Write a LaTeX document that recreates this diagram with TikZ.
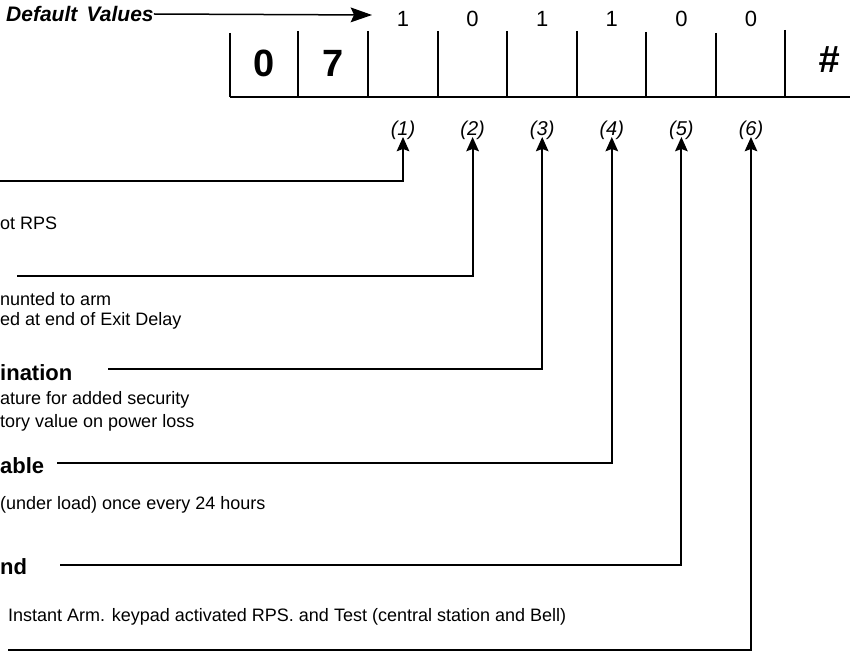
\documentclass[tikz,border=0pt]{standalone}
\usepackage{fontspec}
\setmainfont{Liberation Sans}
\usetikzlibrary{positioning, arrows.meta}

\newcommand{\fsz}[1]{\fontsize{#1}{#1}\selectfont}

\begin{document}
\begin{tikzpicture}[
  x=1pt, y=-1pt,
  note/.style={anchor=west, inner sep=0pt, font=\fsz{18pt}},
  head/.style={anchor=west, inner sep=0pt, font=\fsz{22pt}\bfseries},
  bit/.style={inner sep=0pt, font=\fsz{22pt}},
  idx/.style={anchor=south, inner sep=1.5pt, font=\fsz{20pt}\itshape},
  cellnum/.style={inner sep=0pt, font=\fsz{38pt}\bfseries},
  pick/.style={-{Stealth[length=5mm, width=4.4mm, inset=0.8mm]}, line width=1.9pt},
  grid/.style={line width=1.1pt}
]
\useasboundingbox (0,0) rectangle (850,652);

% entry box
\foreach \xx/\yt in {230/33, 298/31, 368/31, 438/31, 507/31, 577/31, 646/32, 716/33, 785/30}
  \draw[grid] (\xx,\yt) -- (\xx,97);
\draw[grid] (230,97) -- (850,97);
\node[cellnum] (zero) at (264,63) {0};
\node[cellnum] (seven) at (333,63) {7};
\node[inner sep=0pt, font=\fsz{38pt}\bfseries\itshape] (hash) at (829,60) {\#};

% default values
\node[anchor=west, inner sep=0pt, font=\fsz{21pt}\bfseries\itshape] (dv) at (6,14) {Default\, Values};
\foreach \v [count=\i] in {1,0,1,1,0,0}
  \node[bit] (d\i) at ({403+69.6*(\i-1)},19) {\v};
\coordinate (dvtip) at (372,15);
\draw[-{Stealth[length=7.5mm, width=5.2mm, inset=1.2mm]}, line width=1.5pt] (dv.east) -- (dvtip);

% digit positions
\foreach \i in {1,...,6}
  \node[idx] (lab\i) at ({403+69.6*(\i-1)},141) {(\i)};

% descriptions
\node[note] (t1) at (0,223) {ot RPS};
\node[note] (t2a) at (0,299) {nunted to arm};
\node[note] (t2b) at (0,321) {ed at end of Exit Delay};
\node[head] (t3) at (0,373) {ination};
\node[note] (t3a) at (0,400) {ature for added security};
\node[note] (t3b) at (0,423) {tory value on power loss};
\node[head] (t4) at (0,466) {able};
\node[note] (t4a) at (0,505) {(under load) once every 24 hours};
\node[head] (t5) at (0,567) {nd};
\node[note] (t6a) at (8,617) {Instant Arm. keypad activated RPS. and Test (central station and Bell)};

% leader lines
\coordinate (s1) at (0,181);
\coordinate (s2) at (17,276);
\coordinate (s3) at (108,369);
\coordinate (s4) at (57,463);
\coordinate (s5) at (60,565);
\coordinate (s6) at (8,650);
\foreach \i in {1,...,6}
  \draw[pick] (s\i) -| ([yshift=4pt]lab\i.south);
\end{tikzpicture}
\end{document}
